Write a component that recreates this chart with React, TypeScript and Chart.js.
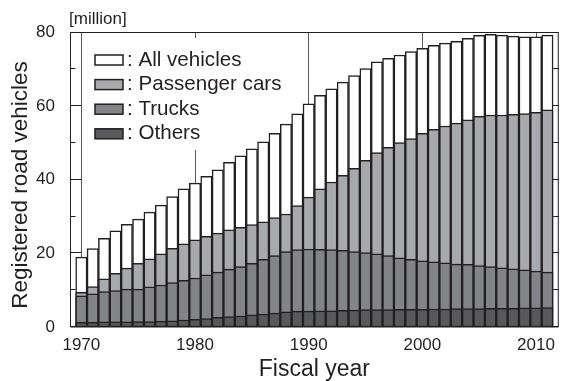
import React, { useEffect, useRef } from "react";
import { Chart, registerables } from "chart.js";

Chart.register(...registerables);

// Fiscal years shown on the x axis
const fiscalYears = [
  1970, 1971, 1972, 1973, 1974, 1975, 1976, 1977, 1978, 1979,
  1980, 1981, 1982, 1983, 1984, 1985, 1986, 1987, 1988, 1989,
  1990, 1991, 1992, 1993, 1994, 1995, 1996, 1997, 1998, 1999,
  2000, 2001, 2002, 2003, 2004, 2005, 2006, 2007, 2008, 2009,
  2010, 2011,
];

// Registered road vehicles, millions
const allVehicles = [
  19.0, 21.3, 24.1, 26.1, 27.9, 29.3, 31.2, 33.1, 35.4, 37.5,
  39.1, 40.9, 42.7, 44.7, 46.5, 48.4, 50.3, 52.6, 55.1, 57.9,
  60.6, 62.9, 64.7, 66.5, 68.3, 70.2, 72.0, 73.0, 73.9, 74.8,
  75.7, 76.5, 77.1, 77.6, 78.4, 79.2, 79.5, 79.3, 79.0, 78.8,
  78.8, 79.3,
];
const passengerCars = [
  9.4, 11.0, 13.1, 14.6, 16.0, 17.3, 18.5, 19.9, 21.4, 22.6,
  23.7, 24.6, 25.5, 26.4, 27.1, 27.8, 28.6, 29.7, 30.7, 33.0,
  35.3, 37.5, 39.4, 41.2, 43.1, 45.3, 47.4, 48.8, 50.1, 51.2,
  52.6, 53.7, 54.6, 55.4, 56.3, 57.2, 57.6, 57.6, 57.8, 58.0,
  58.3, 59.0,
];
const trucks = [
  8.5, 9.0, 9.6, 9.9, 10.3, 10.3, 10.9, 11.4, 12.1, 12.7,
  13.3, 14.2, 14.9, 15.7, 16.4, 17.3, 18.4, 19.4, 20.5, 21.0,
  21.2, 21.1, 21.0, 20.8, 20.5, 20.2, 19.9, 19.4, 18.8, 18.4,
  18.0, 17.7, 17.4, 17.1, 17.0, 16.7, 16.4, 16.1, 15.8, 15.5,
  15.2, 14.9,
];
const others = [
  1.3, 1.3, 1.4, 1.4, 1.4, 1.5, 1.5, 1.6, 1.7, 1.9,
  2.1, 2.3, 2.6, 2.8, 3.0, 3.3, 3.5, 3.8, 4.1, 4.3,
  4.3, 4.4, 4.4, 4.5, 4.6, 4.7, 4.7, 4.7, 4.8, 4.8,
  4.8, 4.9, 4.9, 5.0, 5.0, 5.0, 5.1, 5.1, 5.1, 5.2,
  5.2, 5.3,
];

const seriesLabels = ["All vehicles", "Passenger cars", "Trucks", "Others"];
const yTickValues = [0, 10, 20, 30, 40, 50, 60, 70, 80];
const unitLabel = "[million]";
const yTitle = "Registered road vehicles";

const INK = "#231f20";
const FONT = '"Liberation Sans", Arial, Helvetica, sans-serif';
const FILLS = ["#ffffff", "#a8a9ad", "#838487", "#58595b"];

const toPoints = (values: number[]) =>
  fiscalYears.map((yr, i) => ({ x: yr, y: values[i] }));

// Legend panel position
const LEGEND_LEFT = 84;
const LEGEND_TOP = 38;
const LEGEND_ROW0 = 60;
const LEGEND_GAP = 24.6;

const framePlugin = {
  id: "frame",
  // frame, inward ticks and legend backdrop sit under the bars
  beforeDatasetsDraw(chart: any) {
    const { ctx, chartArea, scales } = chart;
    const { left, right, top, bottom } = chartArea;
    const y = scales.y;
    ctx.save();
    ctx.fillStyle = "#ffffff";
    ctx.fillRect(LEGEND_LEFT, LEGEND_TOP, 216, 112);

    ctx.strokeStyle = INK;
    ctx.lineWidth = 1;
    ctx.beginPath();
    ctx.rect(left + 0.5, top, right - left - 1, bottom - top);
    ctx.stroke();
    ctx.beginPath();
    for (const v of yTickValues) {
      const py = Math.round(y.getPixelForValue(v)) - 0.5;
      const len = v % 20 === 0 ? 11 : 5.5;
      ctx.moveTo(left, py);
      ctx.lineTo(left + len, py);
      ctx.moveTo(right, py);
      ctx.lineTo(right - len, py);
    }
    ctx.stroke();
    ctx.restore();
  },
  afterDatasetsDraw(chart: any) {
    const { ctx, chartArea } = chart;
    ctx.save();

    // unit label above the y axis
    ctx.fillStyle = INK;
    ctx.font = `17px ${FONT}`;
    ctx.textAlign = "left";
    ctx.textBaseline = "alphabetic";
    ctx.fillText(unitLabel, chartArea.left - 1, 23.5);

    // y axis title
    ctx.save();
    ctx.translate(20.4, 185);
    ctx.rotate(-Math.PI / 2);
    ctx.font = `22.5px ${FONT}`;
    ctx.textAlign = "center";
    ctx.textBaseline = "middle";
    ctx.fillText(yTitle, 0, 0);
    ctx.restore();

    // legend entries
    chart.data.datasets.forEach((ds: any, i: number) => {
      const cy = LEGEND_ROW0 + i * LEGEND_GAP;
      ctx.fillStyle = ds.backgroundColor;
      ctx.fillRect(95, cy - 5, 28, 10);
      ctx.strokeStyle = INK;
      ctx.lineWidth = 1.5;
      ctx.strokeRect(95, cy - 5, 28, 10);
      ctx.fillStyle = INK;
      ctx.font = `20.6px ${FONT}`;
      ctx.textAlign = "left";
      ctx.textBaseline = "middle";
      ctx.fillText(": " + ds.label, 127, cy);
    });
    ctx.restore();
  },
};

export default function App() {
  const canvasRef = useRef<HTMLCanvasElement>(null);

  useEffect(() => {
    const canvas = canvasRef.current;
    if (!canvas) return;
    const seriesValues = [allVehicles, passengerCars, trucks, others];
    const chart = new Chart(canvas, {
      type: "bar",
      data: {
        datasets: seriesValues.map((values, i) => ({
          label: seriesLabels[i],
          data: toPoints(values) as any,
          backgroundColor: FILLS[i],
          borderColor: INK,
          borderWidth: 1.5,
          borderSkipped: false,
          grouped: false,
          barPercentage: 1,
          categoryPercentage: 1,
          // the total is drawn furthest back, others in front
          order: seriesValues.length - i,
        })),
      },
      options: {
        animation: false,
        responsive: false,
        events: [],
        layout: { padding: { top: 32.5, right: 1.5, left: 0, bottom: 0 } },
        plugins: {
          legend: { display: false },
          tooltip: { enabled: false },
        },
        scales: {
          x: {
            type: "linear",
            min: 1969,
            max: 2012,
            offset: false,
            afterFit: (s: any) => {
              s.height = 54;
            },
            grid: {
              display: true,
              offset: false,
              drawTicks: false,
              color: "#58595b",
              lineWidth: 1,
            },
            border: { display: false },
            ticks: {
              stepSize: 10,
              includeBounds: false,
              padding: 8,
              maxRotation: 0,
              color: INK,
              font: { family: FONT, size: 17 },
              callback: (v: any) => String(v),
            },
            title: {
              display: true,
              text: "Fiscal year",
              color: INK,
              font: { family: FONT, size: 23, lineHeight: 1 },
              padding: { top: 0, bottom: 0 },
            },
          },
          y: {
            min: 0,
            max: 80,
            afterFit: (s: any) => {
              s.width = 70;
            },
            grid: { display: false },
            border: { display: false },
            ticks: {
              stepSize: 20,
              padding: 7,
              color: INK,
              font: { family: FONT, size: 17 },
            },
            title: { display: false },
          },
        },
      },
      plugins: [framePlugin],
    } as any);
    return () => chart.destroy();
  }, []);

  return (
    <div
      style={{
        position: "fixed",
        left: 0,
        top: 0,
        width: 561,
        height: 381,
        overflow: "hidden",
        background: "#ffffff",
      }}
    >
      <canvas
        ref={canvasRef}
        width={563}
        height={381}
        style={{ display: "block", width: 563, height: 381 }}
      />
    </div>
  );
}
